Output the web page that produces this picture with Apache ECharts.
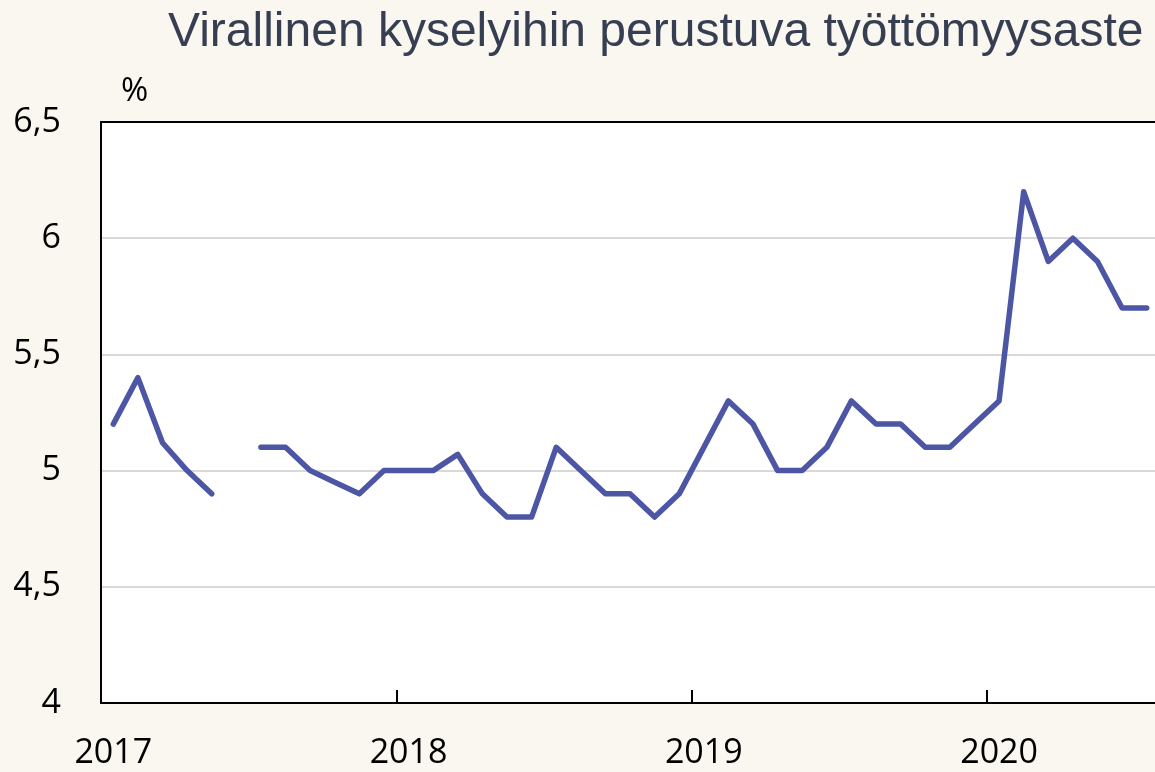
<!DOCTYPE html>
<html lang="fi">
<head>
    <meta charset="utf-8">
    <script src="https://cdn.jsdelivr.net/npm/echarts@6/dist/echarts.min.js"></script>
    <style>
        html, body { margin: 0; padding: 0; background: #faf6f0; }
        #chart { width: 1155px; height: 772px; }
    </style>
</head>
<body>
<div id="chart"></div>
<script>
// kuukaudet 1/2017 - 7/2020
const years = ['2017', '2018', '2019', '2020']
const v2017 = [5.2, 5.4, 5.12, 5.0, 4.9, null, 5.1, 5.1, 5.0, 4.95, 4.9, 5.0]
const v2018 = [5.0, 5.0, 5.07, 4.9, 4.8, 4.8, 5.1, 5.0, 4.9, 4.9, 4.8, 4.9]
const v2019 = [5.1, 5.3, 5.2, 5.0, 5.0, 5.1, 5.3, 5.2, 5.2, 5.1, 5.1, 5.2]
const v2020 = [5.3, 6.2, 5.9, 6.0, 5.9, 5.7, 5.7]

const values = [].concat(v2017, v2018, v2019, v2020)
const months = values.map((v, i) => years[Math.floor(i / 12)] + '-' + (i % 12 + 1))

const font = '"Open Sans", "Liberation Sans", sans-serif'

let chart = echarts.init(document.querySelector('#chart'))
chart.setOption({
    backgroundColor: '#faf6f0',
    animation: false,
    title: [{
        text: 'Virallinen kyselyihin perustuva työttömyysaste',
        left: 163,
        top: 4,
        textStyle: {fontFamily: '"Liberation Sans", Arial, sans-serif', fontSize: 48, fontWeight: 'normal', color: '#363f51'}
    }, {
        text: '%',
        left: 116,
        top: 70,
        textStyle: {fontFamily: font, fontSize: 33, fontWeight: 'normal', color: '#000'}
    }],
    grid: {
        left: 101, top: 122, right: -4, bottom: 69,
        outerBoundsMode: 'none',
        show: true, backgroundColor: '#fff',
        borderWidth: 0
    },
    xAxis: [{
        type: 'category',
        data: months,
        boundaryGap: true,
        axisLine: {lineStyle: {color: '#000', width: 2}},
        axisTick: {
            show: true, inside: true, length: 13,
            interval: 11,
            lineStyle: {color: '#000', width: 2}
        },
        axisLabel: {
            interval: 11,
            formatter: (v) => v.split('-')[0],
            margin: 33,
            fontFamily: font, fontSize: 34, color: '#000'
        },
        splitLine: {show: false}
    }, {
        type: 'category',
        position: 'top',
        data: months,
        axisLine: {show: true, lineStyle: {color: '#000', width: 2}},
        axisTick: {show: false},
        axisLabel: {show: false},
        splitLine: {show: false}
    }],
    yAxis: {
        type: 'value',
        min: 4, max: 6.5, interval: 0.5,
        axisLine: {show: true, lineStyle: {color: '#000', width: 2}},
        axisTick: {show: false},
        axisLabel: {
            formatter: (v) => String(v).replace('.', ','),
            margin: 40,
            fontFamily: font, fontSize: 34, color: '#000'
        },
        splitLine: {lineStyle: {color: '#d9d9d9', width: 2}}
    },
    series: [{
        type: 'line',
        data: values,
        connectNulls: false,
        showSymbol: false,
        lineStyle: {color: '#4c56a5', width: 5.5, cap: 'round', join: 'round'}
    }]
})
</script>
</body>
</html>
